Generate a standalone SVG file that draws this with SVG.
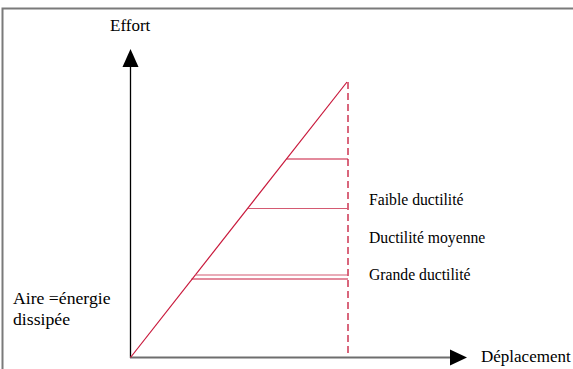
<svg xmlns="http://www.w3.org/2000/svg" width="573" height="369" viewBox="0 0 573 369">
<style>
text{font-family:'Liberation Serif','Tinos','Times New Roman','DejaVu Serif',serif;font-size:17px;fill:#000}
.lbl{font-size:15.7px}
.aire{font-size:17.7px}
.red{stroke:#c8173a;stroke-width:1.2;fill:none}
.pink{stroke:#d45a72;stroke-width:1.2;fill:none}
</style>
<rect width="573" height="369" fill="#fff"/>
<g id="frame">
<path d="M2.5,369 V8.5 H573" stroke="#7a7a7a" stroke-width="2" fill="none"/>
</g>
<g id="connectors">
<line x1="130.5" y1="358" x2="130.5" y2="67" stroke="#000" stroke-width="1.3"/>
<path d="M122.5,67 L138.5,67 L130.5,49 Z" fill="#000"/>
<line x1="130" y1="357.5" x2="450" y2="357.5" stroke="#6e6e6e" stroke-width="2"/>
<path d="M450,349.5 L450,365.5 L467,357.5 Z" fill="#000"/>
<line class="red" x1="130.5" y1="357.5" x2="347" y2="82"/>
<line x1="348" y1="82" x2="348" y2="357" stroke="#d9667c" stroke-width="2" stroke-dasharray="7,4"/>
<line class="red" x1="286.5" y1="159" x2="348" y2="159"/>
<line class="pink" x1="248" y1="208.5" x2="348" y2="208.5"/>
<line class="pink" x1="195" y1="275" x2="348" y2="275"/>
<line class="red" x1="191.5" y1="279" x2="348" y2="279"/>
</g>
<g id="labels">
<text x="110" y="31">Effort</text>
<text x="481" y="362">Déplacement</text>
<text class="lbl" x="369" y="205">Faible ductilité</text>
<text class="lbl" x="369" y="243">Ductilité moyenne</text>
<text class="lbl" x="369" y="280">Grande ductilité</text>
<text class="aire" x="13" y="304">Aire =énergie</text>
<text class="aire" x="13" y="325">dissipée</text>
</g>
</svg>
